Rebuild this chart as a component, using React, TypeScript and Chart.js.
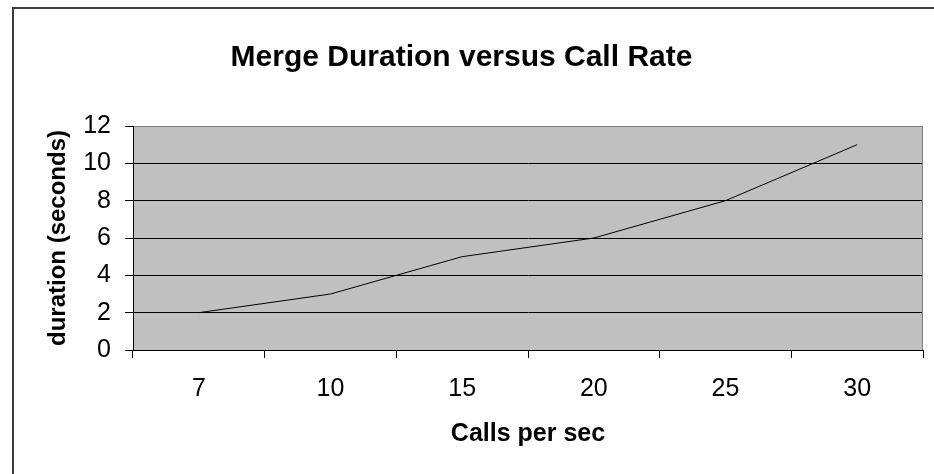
import React, { useEffect, useRef } from "react";
import { Chart, registerables } from "chart.js";

Chart.register(...registerables);

const categories = ["7", "10", "15", "20", "25", "30"];
const durations = [2, 3, 5, 6, 8, 11];
const yTicks = [0, 2, 4, 6, 8, 10, 12];
const titleText = "Merge Duration versus Call Rate";
const xTitleText = "Calls per sec";
const yTitleText = "duration (seconds)";

const FONT = "'Liberation Sans', Arial, Helvetica, sans-serif";

const framePlugin = {
  id: "frame",
  beforeDraw(chart: any) {
    const { ctx, chartArea: a } = chart;
    ctx.save();
    ctx.fillStyle = "#ffffff";
    ctx.fillRect(0, 0, chart.width, chart.height);
    ctx.fillStyle = "#3c3c3c";
    ctx.fillRect(12, 7, 2, chart.height - 7);
    ctx.fillRect(12, 7, chart.width - 12, 2);
    ctx.fillStyle = "#c0c0c0";
    ctx.fillRect(a.left, a.top, a.right - a.left, a.bottom - a.top);
    ctx.restore();
  },
  afterDatasetsDraw(chart: any) {
    const { ctx, chartArea: a } = chart;
    ctx.save();
    ctx.strokeStyle = "#808080";
    ctx.lineWidth = 1;
    ctx.beginPath();
    ctx.moveTo(a.left + 1, Math.round(a.top) + 0.5);
    ctx.lineTo(Math.round(a.right) - 0.5, Math.round(a.top) + 0.5);
    ctx.lineTo(Math.round(a.right) - 0.5, Math.round(a.bottom));
    ctx.stroke();
    ctx.restore();
  },
};

export default function App() {
  const canvasRef = useRef<HTMLCanvasElement | null>(null);

  useEffect(() => {
    if (!canvasRef.current) return;
    const chart = new Chart(canvasRef.current, {
      type: "line",
      data: {
        labels: categories,
        datasets: [
          {
            data: durations,
            borderColor: "#000000",
            borderWidth: 1,
            pointRadius: 0,
            pointHoverRadius: 0,
            tension: 0,
            fill: false,
          },
        ],
      },
      options: {
        animation: false,
        responsive: false,
        events: [],
        layout: { padding: { top: 0, right: 11, bottom: 0, left: 0 } },
        plugins: {
          legend: { display: false },
          tooltip: { enabled: false },
          title: {
            display: true,
            text: titleText,
            color: "#000000",
            font: { family: FONT, size: 30, weight: "bold" },
            padding: { top: 40, bottom: 50 },
          },
        },
        scales: {
          x: {
            type: "category",
            offset: true,
            afterFit(scale: any) {
              scale.height = 124;
            },
            grid: {
              offset: true,
              drawOnChartArea: false,
              color: "#000000",
              tickColor: "#000000",
              tickLength: 8,
              lineWidth: 1,
            },
            border: { color: "#000000", width: 1 },
            ticks: {
              color: "#000000",
              font: { family: FONT, size: 25 },
              padding: 16,
              maxRotation: 0,
              autoSkip: false,
            },
            title: {
              display: true,
              text: xTitleText,
              color: "#000000",
              font: { family: FONT, size: 25, weight: "bold" },
              padding: { top: 0, bottom: 25 },
            },
          },
          y: {
            type: "linear",
            min: 0,
            max: 12,
            afterFit(scale: any) {
              scale.width = 133;
            },
            afterBuildTicks(scale: any) {
              scale.ticks = yTicks.map((v) => ({ value: v }));
            },
            grid: {
              color: (c: any) =>
                c.tick && c.tick.value === 12 ? "#808080" : "#000000",
              tickColor: "#000000",
              tickLength: 8,
              lineWidth: 1,
            },
            border: { color: "#000000", width: 1 },
            ticks: {
              color: "#000000",
              font: { family: FONT, size: 25 },
              padding: 14,
            },
            title: {
              display: true,
              text: yTitleText,
              color: "#000000",
              font: { family: FONT, size: 24, weight: "bold" },
              padding: { top: 44, bottom: 0 },
            },
          },
        },
      },
      plugins: [framePlugin],
    });
    return () => chart.destroy();
  }, []);

  return (
    <div
      style={{
        position: "fixed",
        left: 0,
        top: 0,
        width: 934,
        height: 474,
        background: "#ffffff",
      }}
    >
      <canvas ref={canvasRef} width={934} height={474} />
    </div>
  );
}
